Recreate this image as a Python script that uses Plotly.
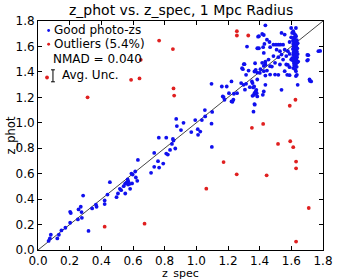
import plotly.graph_objects as go

good_x = [0.067,0.075,0.081,0.122,0.132,0.148,0.173,0.203,0.203,0.207,0.252,0.256,0.27,0.275,0.277,0.285,0.319,0.342,0.366,0.37,0.421,0.421,
          0.439,0.454,0.496,0.505,0.517,0.525,0.541,0.551,0.557,0.566,0.569,0.582,0.59,0.594,0.598,0.614,0.618,0.627,0.631,0.56,0.57,0.58,0.55,
          0.714,0.734,0.734,0.758,0.763,0.765,0.791,0.810,0.810,0.820,0.834,0.846,0.852,0.856,0.867,0.873,0.877,0.903,0.919,0.968,0.993,
          1.009,1.011,1.025,1.035,1.054,1.056,1.096,1.098,1.10,
          1.167,1.172,1.206,1.228,1.234,1.237,1.257,1.355,1.361,1.367,1.367,1.375,1.379,1.538,
          1.39,1.426,1.32,1.395,1.43,1.30,1.294,1.314,1.375,1.385,1.405,1.426,1.436,1.096,1.161,1.192,1.222,1.178,1.222,1.283,1.355,1.365,
          1.381,1.365,1.385,1.369,1.426,1.436,1.307,1.33,
          1.289,1.304,1.298,1.314,1.338,1.359,1.371,1.351,1.367,1.371,1.385,1.42,1.436,1.446,1.477,1.518,1.574,1.578,1.64,1.635,1.725,
          1.436,1.395,1.416,1.446,1.462,1.422,1.426,1.466,1.487,1.503,1.518,1.531,1.548,1.538,1.558,1.599,1.629,1.507,1.528,1.558,1.578,
          1.589,1.599,1.605,1.487,1.518,1.538,1.548,1.568,1.589,1.599,1.497,1.528,1.568,1.589,1.416,1.436,1.456,1.466,1.426,1.401,1.385,
          1.466,1.497,1.558,1.589,1.629,1.629,1.70,1.707,1.771,1.715,
          1.612,1.618,1.625,1.630,1.615,1.622,1.635,1.610,1.628,1.618,1.640,1.612,1.625,1.632,1.615,1.620,1.638,1.610,1.628,1.622,1.635,
          1.614,1.626,1.618,1.640,1.612,1.630,1.620,1.636,1.615,1.625,1.632,1.610,1.622,1.638,1.616,1.628,1.620,1.634,1.612,1.624,
          1.605,1.619,1.643,1.701,1.705,1.782,1.717]
good_y = [0.071,0.091,0.120,0.091,0.120,0.154,0.175,0.214,0.300,0.290,0.240,0.319,0.34,0.298,0.253,0.428,0.150,0.327,0.356,0.34,0.389,0.361,
          0.436,0.533,0.415,0.444,0.481,0.470,0.502,0.444,0.528,0.554,0.515,0.481,0.601,0.523,0.593,0.617,0.570,0.544,0.708,0.53,0.54,0.52,0.52,
          0.607,0.654,0.763,0.698,0.883,0.648,0.679,0.883,0.758,0.750,0.787,0.834,0.873,0.860,0.798,1.03,0.974,0.943,1.0,0.927,1.021,
          0.95,0.905,0.931,1.021,1.10,1.05,0.993,0.81,1.085,
          1.207,1.202,1.233,1.165,1.181,1.228,1.233,1.212,1.087,1.147,1.233,1.246,1.259,1.259,
          1.677,1.69,1.599,1.586,1.62,1.461,1.421,1.377,1.416,1.395,1.421,1.447,1.481,1.306,1.285,1.285,1.325,1.181,1.168,1.312,1.312,1.285,
          1.233,1.22,1.207,1.142,1.246,1.298,1.26,1.41,
          1.429,1.461,1.298,1.306,1.28,1.278,1.233,1.325,1.403,1.468,1.586,1.22,1.371,1.41,1.442,1.377,1.377,1.455,1.298,1.377,1.325,
          1.766,1.68,1.698,1.653,1.635,1.594,1.549,1.594,1.614,1.614,1.614,1.614,1.614,1.706,1.693,1.745,1.745,1.575,1.563,1.575,1.563,
          1.635,1.672,1.706,1.524,1.516,1.536,1.497,1.524,1.541,1.497,1.471,1.458,1.458,1.437,1.471,1.458,1.497,1.445,1.406,1.392,1.34,
          1.379,1.379,1.406,1.374,1.367,1.406,1.489,1.531,1.563,1.34,
          1.72,1.70,1.69,1.68,1.67,1.66,1.65,1.645,1.64,1.63,1.625,1.62,1.61,1.605,1.60,1.59,1.585,1.58,1.575,1.565,1.56,
          1.555,1.55,1.545,1.54,1.535,1.53,1.52,1.515,1.51,1.50,1.495,1.49,1.48,1.475,1.47,1.46,1.45,1.44,1.43,1.42,
          1.508,1.455,1.481,1.533,1.495,1.565,1.33]

out_x = [0.057,0.313,0.588,0.641,0.649,0.765,0.852,0.856,0.860,1.256,1.256,1.328,1.626,1.59,1.422,1.351,1.516,1.593,1.612,
         1.63,1.63,1.172,1.255,1.444,1.063,0.673,0.421,1.71,1.63]
out_y = [1.356,1.20,1.338,1.349,1.495,1.646,1.579,1.270,1.214,1.72,1.686,1.686,1.181,1.134,0.991,0.960,0.834,0.855,0.808,
         0.695,0.642,0.691,0.595,0.587,0.482,0.207,0.183,0.33,0.066]

line_x = [0.0, 1.8]
ticks = [0.0, 0.2, 0.4, 0.6, 0.8, 1.0, 1.2, 1.4, 1.6, 1.8]

FONT = "DejaVu Sans"

fig = go.Figure()
fig.add_trace(go.Scatter(x=line_x, y=line_x, mode="lines",
                         line=dict(color="#444444", width=1), showlegend=False, hoverinfo="skip"))
fig.add_trace(go.Scatter(x=good_x, y=good_y, mode="markers",
                         marker=dict(color="#1010ee", size=3.8, line=dict(width=0)), showlegend=False))
fig.add_trace(go.Scatter(x=out_x, y=out_y, mode="markers",
                         marker=dict(color="#e02020", size=3.8, line=dict(width=0)), showlegend=False))

axis_common = dict(range=[0, 1.8], tickvals=ticks, ticktext=[f"{t:.1f}" for t in ticks],
                   ticks="inside", ticklen=4, tickcolor="black", tickwidth=1,
                   showline=True, linecolor="black", linewidth=1, mirror="ticks",
                   showgrid=False, zeroline=False,
                   tickfont=dict(family=FONT, size=12, color="black"))

fig.update_layout(
    width=344, height=279,
    margin=dict(l=38, r=11, t=21, b=28),
    paper_bgcolor="white", plot_bgcolor="white",
    xaxis=dict(**axis_common),
    yaxis=dict(**axis_common),
    showlegend=False,
    font=dict(family=FONT, color="black"),
)

ann = []
ann.append(dict(text="z_phot vs. z_spec, 1 Mpc Radius", xref="paper", yref="paper", x=0.5, y=1.0,
                yshift=1, xanchor="center", yanchor="bottom", showarrow=False,
                font=dict(family=FONT, size=14, color="black")))
ann.append(dict(text="z_spec", xref="paper", yref="paper", x=0.5, y=0, yshift=-15,
                xanchor="center", yanchor="top", showarrow=False,
                font=dict(family=FONT, size=11, color="black")))
ann.append(dict(text="z_phot", xref="paper", yref="paper", x=0, xshift=-28, y=0.5, textangle=-90,
                xanchor="center", yanchor="middle", showarrow=False,
                font=dict(family=FONT, size=11.5, color="black")))
leg = [("Good photo-zs", 0.0508, 0.9587), ("Outliers (5.4%)", 0.0508, 0.8986),
       ("NMAD = 0.040", 0.0451, 0.8346), ("Avg. Unc.", 0.0756, 0.7649)]
for t, lx, ly in leg:
    ann.append(dict(text=t, xref="paper", yref="paper", x=lx, y=ly, xanchor="left", yanchor="middle",
                    showarrow=False, font=dict(family=FONT, size=12, color="black")))
fig.update_layout(annotations=ann)

shapes = []
for col, ly in (("#1010ee", 0.9587), ("#e02020", 0.8986)):
    shapes.append(dict(type="circle", xref="paper", yref="paper", x0=0.0373 - 0.005, x1=0.0373 + 0.005,
                       y0=ly - 0.0065, y1=ly + 0.0065, fillcolor=col, line=dict(width=0)))
ex, ey0, ey1, cw = 0.0525, 0.7345, 0.7868, 0.0068
shapes.append(dict(type="line", xref="paper", yref="paper", x0=ex, x1=ex, y0=ey0, y1=ey1, line=dict(color="black", width=1)))
shapes.append(dict(type="line", xref="paper", yref="paper", x0=ex - cw, x1=ex + cw, y0=ey0, y1=ey0, line=dict(color="black", width=1)))
shapes.append(dict(type="line", xref="paper", yref="paper", x0=ex - cw, x1=ex + cw, y0=ey1, y1=ey1, line=dict(color="black", width=1)))
fig.update_layout(shapes=shapes)

fig.write_html("out.html")
